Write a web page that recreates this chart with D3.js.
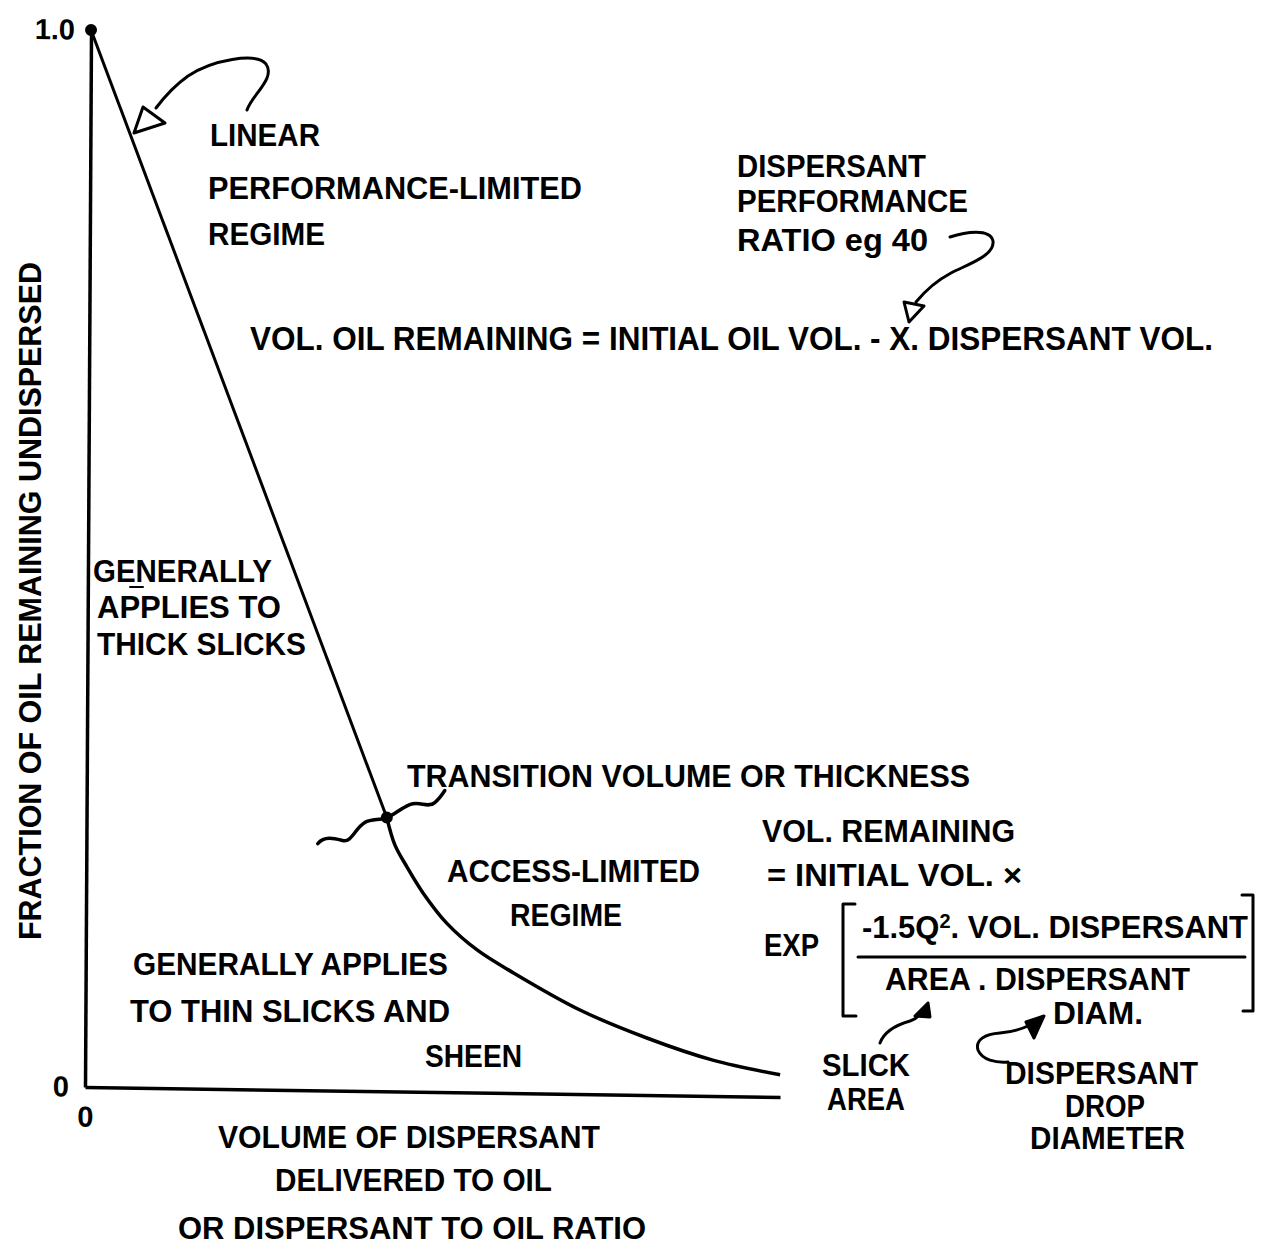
<!DOCTYPE html>
<html>
<head>
<meta charset="utf-8">
<script src="https://cdn.jsdelivr.net/npm/d3@7"></script>
<style>
  body { margin: 0; background: #fff; }
  svg { display: block; }
  text { font-family: "Liberation Sans", Arial, sans-serif; font-weight: bold; fill: #000; }
</style>
</head>
<body>
<svg width="1262" height="1246"></svg>
<script>
const svg = d3.select("svg");

// values: volume of dispersant (0..1) vs fraction remaining
const linearX = [0, 0.432];
const linearY = [1.0, 0.259];
const accessX = [0.432, 0.444, 0.4615, 0.485, 0.519, 0.563, 0.615, 0.7115, 0.808, 0.903, 1.0];
const accessY = [0.259, 0.233, 0.2125, 0.188, 0.160, 0.135, 0.114, 0.0796, 0.054, 0.034, 0.021];
const yTicks = [0, 1];
const yTickLabels = ["0", "1.0"];
const xTicks = [0];
const xTickLabels = ["0"];
const yTitle = "FRACTION OF OIL REMAINING UNDISPERSED";
const xTitle = ["VOLUME OF DISPERSANT", "DELIVERED TO OIL", "OR DISPERSANT TO OIL RATIO"];

// the scanned axes are slightly skewed, so the plot group carries a small shear
const x = d3.scaleLinear().domain([0, 1]).range([0, 695]);
const y = d3.scaleLinear().domain([0, 1]).range([0, -1057]);
const shearX = -0.0057, shearY = 0.0144, ox = 85, oy = 1087;

const plot = svg.append("g")
  .attr("transform", `matrix(1,${shearY},${shearX},1,${ox},${oy})`);

const yAxis = plot.append("g")
  .call(d3.axisLeft(y).tickValues(yTicks).tickSize(0).tickSizeOuter(0).tickPadding(16)
    .tickFormat((d, i) => yTickLabels[i]));
const xAxis = plot.append("g")
  .call(d3.axisBottom(x).tickValues(xTicks).tickSize(0).tickSizeOuter(0).tickPadding(19)
    .tickFormat((d, i) => xTickLabels[i]));

[yAxis, xAxis].forEach(a => {
  a.attr("font-family", null).attr("font-size", null);
  a.select(".domain").attr("stroke", "#000").attr("stroke-width", 3.5);
  a.selectAll("text").style("font-size", "29px").style("font-weight", "bold");
});

const line = d3.line().x(d => x(d[0])).y(d => y(d[1]));
const linearPts = linearX.map((v, i) => [v, linearY[i]]);
const accessPts = accessX.map((v, i) => [v, accessY[i]]);

plot.append("path")
  .attr("d", line.curve(d3.curveLinear)(linearPts))
  .attr("fill", "none").attr("stroke", "#000").attr("stroke-width", 3);
plot.append("path")
  .attr("d", line.curve(d3.curveCatmullRom)(accessPts))
  .attr("fill", "none").attr("stroke", "#000").attr("stroke-width", 3.5);

plot.selectAll(".dot")
  .data([linearPts[0], accessPts[0]])
  .enter().append("circle")
  .attr("class", "dot")
  .attr("cx", d => x(d[0])).attr("cy", d => y(d[1]))
  .attr("r", 6).attr("fill", "#000");

// axis titles
svg.append("text")
  .attr("transform", "translate(41,940) rotate(-90)")
  .attr("textLength", 678).attr("lengthAdjust", "spacingAndGlyphs")
  .style("font-size", "31px")
  .text(yTitle);

const xTitlePos = [[218, 1148, 382], [275, 1191, 277], [178, 1239, 468]];
svg.selectAll(".xtitle")
  .data(xTitle).enter().append("text")
  .attr("class", "xtitle")
  .attr("x", (d, i) => xTitlePos[i][0]).attr("y", (d, i) => xTitlePos[i][1])
  .attr("textLength", (d, i) => xTitlePos[i][2]).attr("lengthAdjust", "spacingAndGlyphs")
  .style("font-size", "31px")
  .text(d => d);

// annotation text: [text, left, baseline, width, size]
const notes = [
  ["LINEAR", 210, 146, 110, 31],
  ["PERFORMANCE-LIMITED", 208, 199, 374, 31],
  ["REGIME", 208, 245, 117, 31],
  ["DISPERSANT", 737, 177, 189, 31],
  ["PERFORMANCE", 737, 212, 231, 31],
  ["RATIO eg 40", 737, 251, 191, 31],
  ["VOL. OIL REMAINING = INITIAL OIL VOL. - X. DISPERSANT VOL.", 250, 350, 963, 33],
  ["GENERALLY", 93, 582, 179, 31],
  ["APPLIES TO", 97, 618, 184, 31],
  ["THICK SLICKS", 97, 655, 209, 31],
  ["TRANSITION VOLUME OR THICKNESS", 407, 787, 563, 31],
  ["VOL. REMAINING", 762, 842, 253, 31],
  ["ACCESS-LIMITED", 447, 882, 253, 31],
  ["= INITIAL VOL. \u00d7", 767, 886, 255, 31],
  ["REGIME", 510, 926, 112, 31],
  ["EXP", 764, 956, 55, 31],
  ["GENERALLY APPLIES", 133, 975, 315, 31],
  ["AREA . DISPERSANT", 885, 990, 305, 31],
  ["TO THIN SLICKS AND", 130, 1022, 320, 31],
  ["DIAM.", 1053, 1024, 90, 31],
  ["SHEEN", 425, 1067, 97, 31],
  ["SLICK", 822, 1076, 88, 31],
  ["DISPERSANT", 1005, 1084, 193, 31],
  ["AREA", 827, 1110, 78, 31],
  ["DROP", 1065, 1117, 80, 31],
  ["DIAMETER", 1030, 1149, 155, 31]
];

svg.selectAll(".note")
  .data(notes).enter().append("text")
  .attr("class", "note")
  .attr("x", d => d[1]).attr("y", d => d[2])
  .attr("textLength", d => d[3]).attr("lengthAdjust", "spacingAndGlyphs")
  .style("font-size", d => d[4] + "px")
  .text(d => d[0]);

// numerator with a real superscript
const num = svg.append("text")
  .attr("x", 862).attr("y", 938)
  .attr("textLength", 386).attr("lengthAdjust", "spacingAndGlyphs")
  .style("font-size", "31px");
num.append("tspan").text("-1.5Q");
num.append("tspan").attr("dy", -10).style("font-size", "20px").text("2");
num.append("tspan").attr("dy", 10).text(". VOL. DISPERSANT");

// hand-drawn pointers and brackets
const ink = svg.append("g").attr("fill", "none").attr("stroke", "#000")
  .attr("stroke-width", 3).attr("stroke-linecap", "round").attr("stroke-linejoin", "round");

// wavy marker through the transition point
const tx = ox + x(accessPts[0][0]) + shearX * y(accessPts[0][1]);
const ty = oy + y(accessPts[0][1]) + shearY * x(accessPts[0][0]);
ink.append("path")
  .attr("transform", `translate(${tx},${ty})`)
  .attr("stroke-width", 3.5)
  .attr("d", "M-69,26 C-62,18 -52,21 -44,23 C-35,25 -32,11 -22,5 C-15,1 -7,3 0,0 C8,-3 13,-9 23,-13 C33,-17 41,-9 48,-15 C53,-19 56,-24 58,-27");

// linear regime pointer
ink.append("path").attr("d", "M247,110 C252,95 276,78 266,64 C256,52 212,60 188,76 C174,86 165,96 156,108");
ink.append("path").attr("d", "M134,133 L143,107 L165,123 Z").attr("fill", "#fff");

// performance ratio pointer
ink.append("path").attr("d", "M950,237 C965,232 990,228 993,241 C995,256 966,265 951,273 C936,281 925,291 916,302");
ink.append("path").attr("d", "M909,322 L904,302 L924,306 Z").attr("fill", "#fff");

// fraction bar and brackets
ink.append("path").attr("d", "M858,957 H1245");
ink.append("path").attr("d", "M855,904 H843 V1016 H856");
ink.append("path").attr("d", "M1242,895 H1253 V1011 H1243");

// slick area pointer
ink.append("path").attr("d", "M880,1043 C884,1032 896,1025 910,1021 C916,1019 919,1016 921,1013");
ink.append("path").attr("d", "M928,1003 L915,1016 L930,1017 Z").attr("fill", "#000");

// drop diameter pointer
ink.append("path").attr("d", "M1008,1062 C996,1063 982,1060 978,1050 C975,1040 985,1034 1000,1033 C1012,1032 1022,1029 1030,1025");
ink.append("path").attr("d", "M1044,1016 L1026,1022 L1034,1038 Z").attr("fill", "#000");

// stray underline mark in the thick-slick note
ink.append("path").attr("d", "M130,587 H143").attr("stroke-width", 2);
</script>
</body>
</html>
